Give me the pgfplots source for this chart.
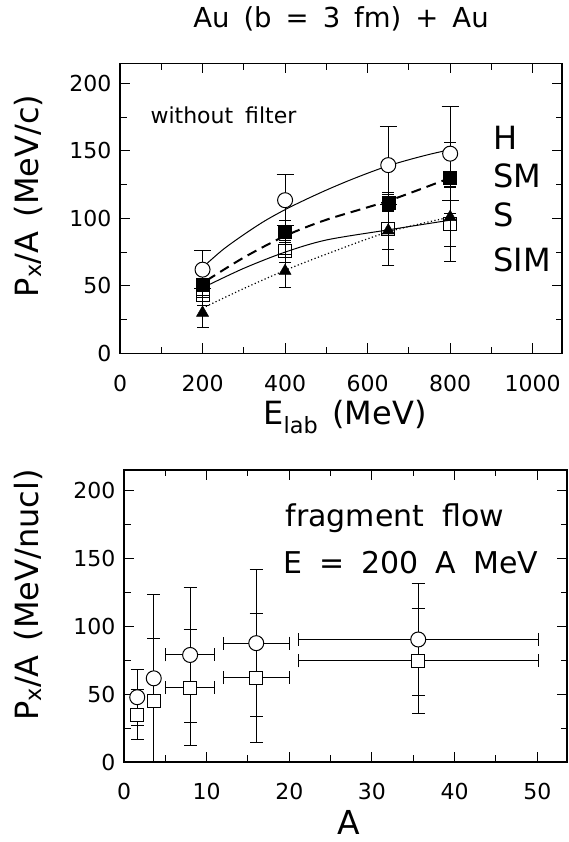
\documentclass[border=0pt]{standalone}
\usepackage{pgfplots}
\pgfplotsset{compat=1.18}
\usepackage{pgfplotstable}
\usepackage{fontspec}
\setmainfont{DejaVu Sans}

% top panel: E_lab, P_x/A, error
\pgfplotstableread{
x y ey
200 62 14
400 113.5 19
650 139.5 29
800 148 35
}\Hdata
\pgfplotstableread{
x y ey
200 51 8
400 90.5 8
650 112 6
800 130 26
}\SMdata
\pgfplotstableread{
x y ey
200 30 11
400 61 12.5
650 91 14
800 101 22
}\Sdata
\pgfplotstableread{
x y ey
200 43.5 8
400 75.5 8
650 92 27
800 96 28
}\SIMdata

% bottom panel: A, P_x/A, errors
\pgfplotstableread{
x y ex ey
1.6 47.7 0 20.5
3.6 61.6 0 61.6
8.0 78.8 3 50
16.0 87.5 4 54
35.6 90.2 14.5 41
}\circdata
\pgfplotstableread{
x y ex ey
1.6 34.8 0 18.6
3.6 44.7 0 46
8.0 54.7 3 42.5
16.0 62.1 4 47.5
35.6 74.5 14.5 38.5
}\sqdata

\pgfplotsset{
  panel/.style={
    scale only axis,
    axis line style={line width=1.1pt},
    ymin=0, ymax=215, ytick={0,50,...,200}, minor y tick num=1,
    every tick/.style={line width=1pt, black},
    every minor tick/.style={line width=1pt, black},
    major tick length=10pt, minor tick length=6.5pt,
    tick align=inside,
    xtick pos=both, ytick pos=both,
    xticklabel pos=lower, yticklabel pos=left,
    every tick label/.append style={font=\fontsize{22}{22}\selectfont},
    /pgf/number format/assume math mode=true,
    /pgf/number format/1000 sep={},
    xticklabel shift=18pt, yticklabel shift=5pt,
  },
  ebar/.style={
    error bars/y dir=both, error bars/y explicit,
    error bars/error bar style={line width=1pt, solid},
    error bars/error mark options={rotate=90, mark size=#1, line width=1pt, solid},
  },
}

\begin{document}
\begin{tikzpicture}
\path[use as bounding box] (0pt,0pt) rectangle (568pt,842pt);

\begin{axis}[panel, at={(120pt,488.7pt)}, anchor=south west,
  width=442pt, height=290pt,
  xmin=0, xmax=1071, xtick={0,200,...,1000}, minor x tick num=1]
% fitted curves
\addplot[smooth, line width=1pt, no marks] coordinates {
  (205,65)(250,77)(300,88)(350,98)(400,106.5)(450,114)(500,121)(550,127.5)
  (600,133.5)(650,139)(700,143.5)(750,147.5)(800,151)};
\addplot[smooth, line width=2pt, no marks, dash pattern=on 10pt off 6pt] coordinates {
  (210,54)(300,71)(400,87)(500,99)(650,113)(800,130)};
\addplot[smooth, line width=1pt, no marks] coordinates {
  (205,49.3)(300,63)(400,75)(500,84)(650,91.5)(800,98.7)};
\addplot[smooth, line width=1.2pt, no marks, dash pattern=on 1.2pt off 2.4pt] coordinates {
  (200,33.5)(300,48)(400,61.5)(500,73.5)(650,90)(800,101)};
% data points
\addplot[only marks, mark=square, mark size=6.5pt, mark options={line width=1pt}, ebar=6pt]
  table[x=x, y=y, y error=ey] {\SIMdata};
\addplot[only marks, mark=triangle*, mark size=7pt, ebar=6pt]
  table[x=x, y=y, y error=ey] {\Sdata};
\addplot[only marks, mark=square*, mark size=6.5pt, ebar=6pt]
  table[x=x, y=y, y error=ey] {\SMdata};
\addplot[only marks, mark=*, mark size=7.5pt, mark options={fill=white, line width=1pt}, ebar=8.5pt]
  table[x=x, y=y, y error=ey] {\Hdata};
\end{axis}

\begin{axis}[panel, at={(124pt,80pt)}, anchor=south west,
  width=443pt, height=292pt,
  xmin=0, xmax=53.6, xtick={0,10,...,50}, minor x tick num=1]
\addplot[only marks, mark=square*, mark size=6.5pt, mark options={fill=white, line width=1pt},
  ebar=6.5pt, error bars/x dir=both, error bars/x explicit]
  table[x=x, y=y, x error=ex, y error=ey] {\sqdata};
\addplot[only marks, mark=*, mark size=7.5pt, mark options={fill=white, line width=1pt},
  ebar=6.5pt, error bars/x dir=both, error bars/x explicit]
  table[x=x, y=y, x error=ex, y error=ey] {\circdata};
\addplot[only marks, mark=square*, mark size=6.5pt, mark options={fill=white, line width=1pt}]
  table[x=x, y=y] {\sqdata};
\end{axis}

% texts
\node[font=\fontsize{27.5}{27.5}\selectfont, anchor=base] at (341pt,814pt)
  {Au\hspace{14pt}(b\hspace{14pt}=\hspace{14pt}3\hspace{14pt}fm)\hspace{14pt}+\hspace{14pt}Au};
\node[font=\fontsize{32}{32}\selectfont, rotate=90, anchor=base] at (38pt,646pt)
  {P\textsubscript{x}/A\hspace{14pt}(MeV/c)};
\node[font=\fontsize{32}{32}\selectfont, anchor=base] at (345pt,417pt)
  {E\textsubscript{lab}\hspace{14pt}(MeV)};
\node[font=\fontsize{32}{32}\selectfont, rotate=90, anchor=base] at (38pt,247pt)
  {P\textsubscript{x}/A\hspace{14pt}(MeV/nucl)};
\node[font=\fontsize{33}{33}\selectfont, anchor=base] at (348.5pt,7pt) {A};

\node[font=\fontsize{22}{22}\selectfont, anchor=base west] at (147pt,718pt)
  {without\hspace{12pt}filter};
\begin{scope}[every node/.style={font=\fontsize{32}{32}\selectfont, anchor=base west}]
\node at (490pt,692pt) {H};
\node at (490pt,654pt) {SM};
\node at (490pt,615pt) {S};
\node at (490pt,570pt) {SIM};
\end{scope}
\node[font=\fontsize{30}{30}\selectfont, anchor=base west] at (282pt,315pt)
  {fragment\hspace{18pt}flow};
\node[font=\fontsize{30}{30}\selectfont, anchor=base west] at (280pt,268pt)
  {E\hspace{17pt}=\hspace{17pt}200\hspace{17pt}A\hspace{17pt}MeV};
\end{tikzpicture}
\end{document}
